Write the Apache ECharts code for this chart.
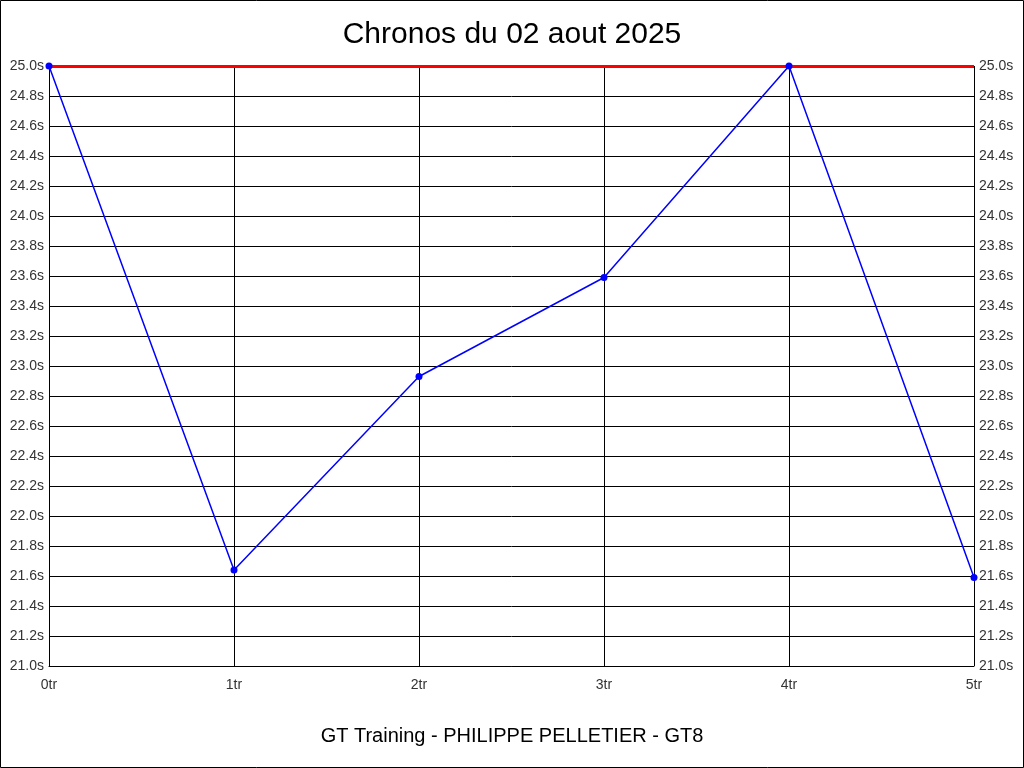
<!DOCTYPE html>
<html>
<head>
<meta charset="utf-8">
<script src="https://cdn.jsdelivr.net/npm/echarts@6/dist/echarts.min.js"></script>
<style>
html,body{margin:0;padding:0;background:#fff;}
#chart{width:1024px;height:768px;}
</style>
</head>
<body>
<div id="chart"></div>
<script>
const categories = ['0tr', '1tr', '2tr', '3tr', '4tr', '5tr'];
const lapTimes = [25.0, 21.64, 22.93, 23.59, 25.0, 21.59];
const referenceValue = 25.0;
const titleText = 'Chronos du 02 aout 2025';
const footerText = 'GT Training - PHILIPPE PELLETIER - GT8';

const chart = echarts.init(document.getElementById('chart'));
const fontFam = '"Liberation Sans", Arial, sans-serif';
const yAxisCommon = {
  type: 'value', min: 21, max: 25, interval: 0.2,
  axisLine: { show: false },
  axisTick: { show: false },
  axisLabel: { color: '#333', fontSize: 14, fontFamily: fontFam, margin: 5,
    padding: [3, 0, 0, 0],
    formatter: v => v.toFixed(1) + 's' }
};
chart.setOption({
  animation: false,
  backgroundColor: '#fff',
  title: [
    { text: titleText, left: 'center', top: 15,
      textStyle: { fontSize: 30, fontWeight: 'normal', color: '#000', fontFamily: fontFam } },
    { text: footerText, left: 'center', top: 721,
      textStyle: { fontSize: 20, fontWeight: 'normal', color: '#000', fontFamily: fontFam } }
  ],
  graphic: [{
    type: 'rect', shape: { x: 0.5, y: 0.5, width: 1023, height: 767 },
    style: { fill: 'none', stroke: '#000', lineWidth: 1 }, silent: true, z: 100
  }],
  grid: { left: 49, right: 50, top: 66, bottom: 102, containLabel: false },
  xAxis: {
    type: 'category', data: categories, boundaryGap: false,
    axisLine: { show: true, lineStyle: { color: '#000', width: 1 } },
    axisTick: { show: false },
    axisLabel: { color: '#333', fontSize: 14, fontFamily: fontFam, margin: 12 },
    splitLine: { show: true, lineStyle: { color: '#000', width: 1 } }
  },
  yAxis: [
    Object.assign({}, yAxisCommon, { position: 'left',
      axisLine: { show: true, lineStyle: { color: '#000', width: 1 } },
      splitLine: { show: true, lineStyle: { color: '#000', width: 1 } } }),
    Object.assign({}, yAxisCommon, { position: 'right',
      splitLine: { show: false } })
  ],
  series: [{
    type: 'line', data: lapTimes, yAxisIndex: 0,
    symbol: 'circle', symbolSize: 7, showSymbol: true,
    lineStyle: { color: '#0000ff', width: 1.5 },
    itemStyle: { color: '#0000ff' },
    z: 5,
    markLine: {
      silent: true, symbol: ['none', 'none'], label: { show: false },
      lineStyle: { color: '#ff0000', width: 3, type: 'solid' },
      data: [{ yAxis: referenceValue }],
      z: 4
    }
  }]
});
</script>
</body>
</html>
